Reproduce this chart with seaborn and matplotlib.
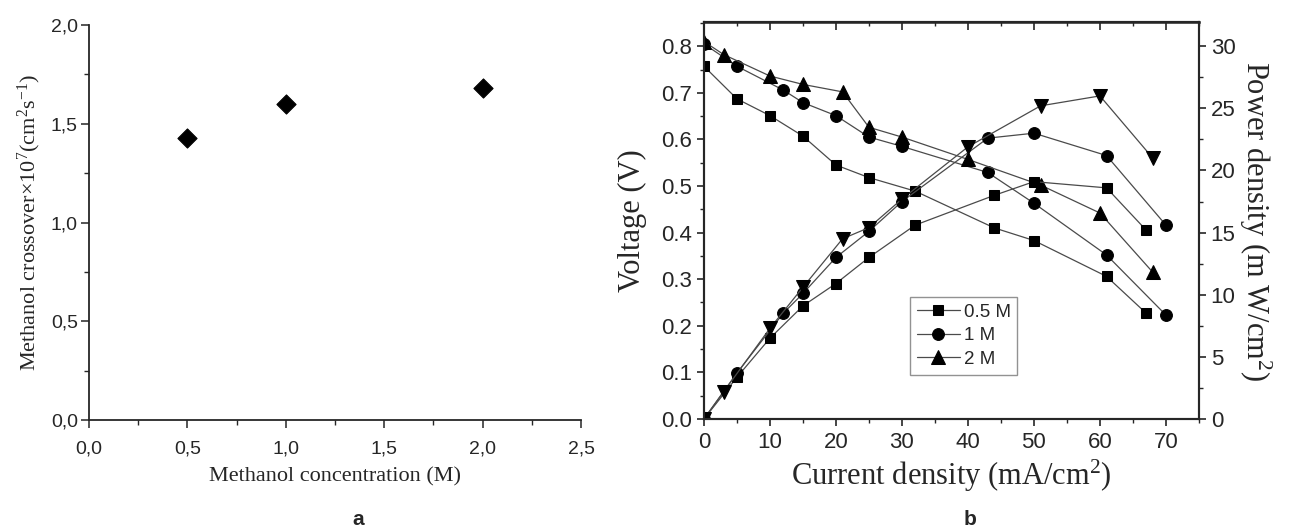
import numpy as np
import matplotlib
matplotlib.use("Agg")
import matplotlib.pyplot as plt
import seaborn as sns
from matplotlib.ticker import MultipleLocator, FormatStrFormatter, FuncFormatter

# panel a: methanol crossover
conc = [0.5, 1.0, 2.0]
crossover = [1.43, 1.60, 1.68]

# panel b: polarisation / power curves
i_05 = [0, 5, 10, 15, 20, 25, 32, 44, 50, 61, 67]
v_05 = [0.757, 0.687, 0.651, 0.607, 0.545, 0.518, 0.489, 0.410, 0.383, 0.306, 0.227]
p_05 = [0, 3.36, 6.5, 9.1, 10.9, 13.0, 15.6, 18.0, 19.1, 18.6, 15.2]

i_1 = [0, 5, 12, 15, 20, 25, 30, 43, 50, 61, 70]
v_1 = [0.805, 0.757, 0.706, 0.679, 0.651, 0.605, 0.585, 0.529, 0.463, 0.352, 0.223]
p_1 = [0, 3.7, 8.5, 10.1, 13.0, 15.1, 17.5, 22.6, 23.0, 21.2, 15.6]

i_2 = [0, 3, 10, 15, 21, 25, 30, 40, 51, 60, 68]
v_2 = [0.81, 0.782, 0.736, 0.718, 0.702, 0.626, 0.605, 0.557, 0.502, 0.442, 0.315]
p_2 = [0, 2.2, 7.3, 10.6, 14.5, 15.4, 17.7, 21.9, 25.2, 26.0, 21.0]

labels = ["0.5 M", "1 M", "2 M"]

sns.set_style("ticks")
plt.rcParams["font.family"] = ["Liberation Sans", "DejaVu Sans"]
plt.rcParams["mathtext.fontset"] = "custom"
plt.rcParams["mathtext.rm"] = "Liberation Serif"
plt.rcParams["mathtext.it"] = "Liberation Serif:italic"
plt.rcParams["axes.linewidth"] = 1.3

SERIF = "Liberation Serif"
comma = FuncFormatter(lambda v, p: f"{v:.1f}".replace(".", ","))

fig = plt.figure(figsize=(12.9, 5.27), dpi=100)

# ---------- panel a ----------
ax_a = fig.add_axes([0.069, 0.203, 0.3814, 0.7495])
sns.scatterplot(x=conc, y=crossover, marker="D", s=95, color="black",
                edgecolor="black", ax=ax_a, zorder=3)
ax_a.set_xlim(0, 2.5)
ax_a.set_ylim(0, 2.0)
ax_a.xaxis.set_major_locator(MultipleLocator(0.5))
ax_a.xaxis.set_minor_locator(MultipleLocator(0.25))
ax_a.yaxis.set_major_locator(MultipleLocator(0.5))
ax_a.yaxis.set_minor_locator(MultipleLocator(0.25))
ax_a.xaxis.set_major_formatter(comma)
ax_a.yaxis.set_major_formatter(comma)
ax_a.tick_params(which="major", direction="out", length=6, width=1.1, labelsize=14)
ax_a.tick_params(which="minor", direction="out", length=3.5, width=1.0)
ax_a.tick_params(axis="x", which="major", pad=9)
ax_a.tick_params(axis="y", which="major", pad=2)
sns.despine(ax=ax_a)
ax_a.set_xlabel("Methanol concentration (M)", family=SERIF, fontsize=16, labelpad=7)
ax_a.set_ylabel(r"Methanol crossover$\times$10$^{7}$(cm$^{2}$s$^{-1}$)",
                family=SERIF, fontsize=16)
ax_a.yaxis.set_label_coords(-0.093, 0.5)

# ---------- panel b ----------
ax_b = fig.add_axes([0.5457, 0.205, 0.3837, 0.7533])
ax_p = ax_b.twinx()

line_kw = dict(color="#4a4a4a", linewidth=0.9, markerfacecolor="black",
               markeredgecolor="black", sort=False)

sns.lineplot(x=i_05, y=v_05, marker="s", markersize=7.5, label=labels[0], ax=ax_b, **line_kw)
sns.lineplot(x=i_1, y=v_1, marker="o", markersize=8.5, label=labels[1], ax=ax_b, **line_kw)
sns.lineplot(x=i_2, y=v_2, marker="^", markersize=9.5, label=labels[2], ax=ax_b, **line_kw)

sns.lineplot(x=i_05, y=p_05, marker="s", markersize=7.5, ax=ax_p, **line_kw)
sns.lineplot(x=i_1, y=p_1, marker="o", markersize=8.5, ax=ax_p, **line_kw)
sns.lineplot(x=i_2, y=p_2, marker="v", markersize=9.5, ax=ax_p, **line_kw)

v_top = 0.852
ax_b.set_xlim(0, 75)
ax_b.set_ylim(0, v_top)
ax_p.set_ylim(0, v_top * 37.5)

ax_b.xaxis.set_major_locator(MultipleLocator(10))
ax_b.xaxis.set_minor_locator(MultipleLocator(5))
ax_b.yaxis.set_major_locator(MultipleLocator(0.1))
ax_b.yaxis.set_minor_locator(MultipleLocator(0.05))
ax_b.yaxis.set_major_formatter(FormatStrFormatter("%.1f"))
ax_p.yaxis.set_major_locator(MultipleLocator(5))
ax_p.yaxis.set_minor_locator(MultipleLocator(2.5))

for a in (ax_b, ax_p):
    a.tick_params(which="major", direction="out", length=5, width=1.2, labelsize=16)
    a.tick_params(which="minor", direction="out", length=3, width=1.0)
    for s in a.spines.values():
        s.set_linewidth(1.5)
ax_b.tick_params(axis="x", which="major", pad=4.5)

top = ax_b.secondary_xaxis("top")
top.xaxis.set_major_locator(MultipleLocator(10))
top.xaxis.set_minor_locator(MultipleLocator(5))
top.tick_params(which="major", direction="in", length=6, width=1.2, labeltop=False)
top.tick_params(which="minor", direction="in", length=3, width=1.0)
top.spines["top"].set_linewidth(1.8)

ax_b.set_xlabel(r"Current density (mA/cm$^{2}$)", family=SERIF, fontsize=22, labelpad=3)
ax_b.set_ylabel("Voltage (V)", family=SERIF, fontsize=22)
ax_b.yaxis.set_label_coords(-0.115, 0.5)
ax_p.set_ylabel(r"Power density (m W/cm$^{2}$)", family=SERIF, fontsize=22,
                rotation=270, va="bottom")
ax_p.yaxis.set_label_coords(1.077, 0.5)

handles, labs = ax_b.get_legend_handles_labels()
ax_b.get_legend().remove()
leg = ax_b.legend(handles, labs, loc="lower left", bbox_to_anchor=(0.417, 0.112),
                  fontsize=13.5, frameon=True, fancybox=False, edgecolor="#777777",
                  handlelength=2.3, handletextpad=0.2, borderpad=0.35,
                  labelspacing=0.35, borderaxespad=0)
leg.get_frame().set_linewidth(1.0)

fig.text(0.2775, 0.015, "a", fontsize=15, fontweight="bold", ha="center", va="center")
fig.text(0.752, 0.015, "b", fontsize=15, fontweight="bold", ha="center", va="center")

fig.savefig("out.png", dpi=100)
